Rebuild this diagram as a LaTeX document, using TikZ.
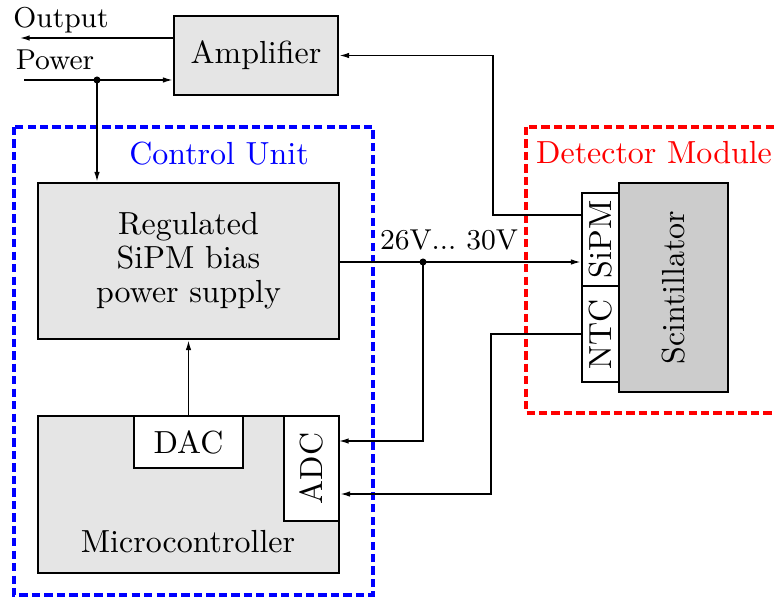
\documentclass[tikz,border=0pt]{standalone}
\usepackage{tikz}
\usetikzlibrary{arrows.meta,calc}

\newcommand{\pxu}{0.011cm}
\tikzset{
    box/.style={draw, line width=0.9pt, fill=gray!20, inner sep=0pt, align=center},
    part/.style={draw, line width=0.9pt, fill=white, inner sep=0pt},
    unitframe/.style={line width=1.1pt, dash pattern=on 2.6pt off 1.3pt},
    >={Latex[length=3pt,width=1.7pt]}
}

\begin{document}
\begin{tikzpicture}[x=\pxu, y=-\pxu]
    \useasboundingbox (0,0) rectangle (775,596);
    \clip (0,0) rectangle (775,596);

    % Rėmai
    \draw[unitframe, blue] (14,127) rectangle (373,595);
    \draw[unitframe, red] (526,127) rectangle (800,413);
    \node[blue, anchor=base] (cu) at (219,165) {Control Unit};
    \node[red, anchor=base] (dm) at (654,164) {Detector Module};

    \node[box, minimum width={164*\pxu}, minimum height={79*\pxu}] (amp) at (256,55.5) {Amplifier};
    \node[box, minimum width={301*\pxu}, minimum height={156*\pxu}, font=\fontsize{10}{10.6}\selectfont] (reg) at (188.5,261) {Regulated\\SiPM bias\\power supply};
    \node[box, minimum width={301*\pxu}, minimum height={157*\pxu}] (mcu) at (188.5,494.5) {};
    \node[anchor=base] (mcutxt) at (188,552) {Microcontroller};
    \node[part, minimum width={109*\pxu}, minimum height={52*\pxu}] (dac) at (188.5,442) {DAC};
    \node[part, minimum width={55*\pxu}, minimum height={105*\pxu}] (adc) at (311.5,468.5) {\rotatebox{90}{ADC}};

    \node[box, fill=gray!40, minimum width={109*\pxu}, minimum height={209*\pxu}] (scin) at (673.5,287.5) {\rotatebox{90}{Scintillator}};
    \node[part, minimum width={37*\pxu}, minimum height={93*\pxu}] (sipm) at (600.5,239.5) {\rotatebox{90}{SiPM}};
    \node[part, minimum width={37*\pxu}, minimum height={96*\pxu}] (ntc) at (600.5,334) {\rotatebox{90}{NTC}};

    % Išėjimas ir maitinimas
    \node[font=\small, anchor=base] (outtxt) at (61,28) {Output};
    \node[font=\small, anchor=base] (pwrtxt) at (55,70) {Power};
    \coordinate (out) at (20,38);
    \coordinate (pin) at (24,80);
    \coordinate (pj) at (97,80);
    \draw[->] (amp.west|-out) -- (out);
    \draw[->] (pin) -- (amp.west|-pin);
    \draw[->] (pj) -- (pj|-reg.north);

    \draw[->] (dac.north) -- (reg.south);

    % Įtampa 26V...30V
    \coordinate (bj) at (423,262);
    \coordinate (adcin1) at (339,441);
    \node[font=\small, anchor=base] (vlab) at (449,250) {26V...\ 30V};
    \draw[->] (reg.east|-bj) -- (sipm.west|-bj);
    \draw[->] (bj) |- (adcin1);

    \coordinate (ntcbend) at (491,494);
    \draw[->] (ntc.west) -| (ntcbend) -- (ntcbend-|adc.east);

    \coordinate (sipmbend) at (493,215);
    \draw[->] (sipmbend-|sipm.west) -- (sipmbend) |- (amp.east);

    \foreach \p in {pj, bj} {
        \fill (\p) circle (1.1pt);
    }
\end{tikzpicture}
\end{document}
